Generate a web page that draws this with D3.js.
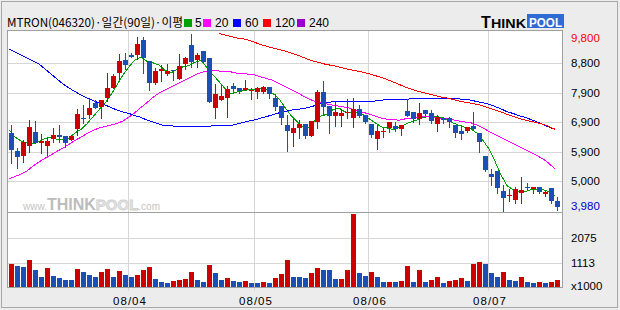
<!DOCTYPE html>
<html>
<head>
<meta charset="utf-8">
<script src="https://cdn.jsdelivr.net/npm/d3@7"></script>
<style>
  body { margin: 0; background: #ececec; }
  svg { display: block; font-family: "Liberation Sans", Arial, sans-serif; }
</style>
</head>
<body>
<div id="chart"></div>
<script>
// MTRON daily candles, 08/03 .. 08/07 (won), volume in x1000 shares
const opens = [
  6530, 5940, 5780, 6120, 6570, 6220, 6110, 6350, 6470, 6430,
  6310, 6680, 7030, 7120, 7530, 7380, 7690, 8010, 8500, 8940,
  9110, 9110, 9600, 8910, 8190, 8570, 8480, 8610, 8320, 8800,
  9440, 8940, 9240, 9000, 7370, 7630, 7700, 8090, 8010, 7940,
  7910, 7900, 7880, 8040, 7680, 7420, 6800, 6550, 6710, 6820,
  6450, 6910, 7880, 7430, 7110, 7110, 7190, 7040, 7320, 7130,
  6830, 6340, 6590, 6710, 6770, 6670, 7260, 7220, 7000, 7290,
  7210, 6820, 7020, 7020, 6800, 6610, 6610, 6770, 6550, 5790,
  5180, 5290, 4620, 4480, 4330, 4570, 4770, 4680, 4750, 4520,
  4730, 4290
];
const highs = [
  6800, 6050, 6310, 6970, 6940, 6500, 6390, 6700, 6800, 6430,
  6470, 7330, 7450, 7660, 7630, 7610, 8500, 8480, 9140, 9160,
  9160, 9690, 9710, 8910, 8670, 8780, 8800, 8610, 9140, 9050,
  9800, 9160, 9240, 9000, 8150, 8120, 8090, 8180, 8010, 8280,
  8010, 8040, 8090, 8040, 7820, 7420, 7130, 6990, 6970, 6820,
  6930, 7950, 8250, 7430, 7570, 7320, 7650, 7680, 7460, 7130,
  6830, 6800, 6710, 6900, 6900, 6800, 7650, 7220, 7540, 7290,
  7290, 7130, 7020, 7070, 6800, 6800, 6740, 7240, 6550, 5790,
  5350, 5290, 4820, 4690, 4750, 5080, 4880, 4750, 4750, 4620,
  4730, 4440
];
const lows = [
  5560, 5390, 5590, 5920, 6190, 5890, 5800, 6230, 6230, 6070,
  6310, 6480, 6880, 7020, 7360, 7020, 7590, 8010, 8330, 8660,
  9030, 8990, 8500, 7950, 8150, 8260, 8450, 8280, 8320, 8640,
  8720, 8700, 8830, 7570, 7020, 7630, 7050, 7850, 7850, 7940,
  7650, 7700, 7870, 7680, 7290, 6820, 5950, 6110, 6360, 6360,
  6450, 6710, 7130, 6550, 6780, 6780, 7020, 6740, 7050, 6860,
  6410, 6010, 6410, 6580, 6610, 6470, 7110, 6910, 6820, 7070,
  6860, 6610, 6860, 6730, 6410, 6330, 6580, 6630, 5920, 5290,
  4820, 4570, 3980, 4290, 4220, 4220, 4690, 4550, 4550, 4470,
  4220, 4000
];
const closes = [
  5980, 5760, 6250, 6720, 6220, 6280, 6270, 6470, 6410, 6220,
  6440, 7160, 7010, 7360, 7360, 7610, 8020, 8420, 8910, 8790,
  9030, 9470, 9000, 8190, 8580, 8650, 8590, 8570, 8750, 9020,
  8880, 9110, 8890, 7570, 7810, 7750, 7980, 8000, 7920, 8010,
  7940, 8020, 8040, 7830, 7380, 7020, 6610, 6710, 6830, 6450,
  6930, 7880, 7400, 7110, 7220, 7210, 7220, 7320, 7110, 6910,
  6470, 6600, 6600, 6900, 6670, 6800, 7110, 7000, 7200, 7150,
  6930, 7050, 6950, 6890, 6550, 6490, 6740, 6660, 6230, 5320,
  5100, 4710, 4380, 4490, 4690, 4660, 4760, 4750, 4600, 4590,
  4300, 4110
];
const volumes = [
  1067, 989, 951, 1221, 835, 564, 912, 603, 526, 448,
  440, 874, 757, 641, 564, 757, 874, 564, 796, 641,
  564, 641, 835, 951, 487, 371, 332, 410, 448, 487,
  757, 448, 371, 1028, 718, 448, 526, 410, 371, 410,
  332, 325, 371, 332, 526, 680, 1221, 564, 560, 526,
  718, 912, 835, 830, 487, 495, 835, 3000, 718, 603,
  757, 564, 371, 380, 371, 410, 989, 371, 835, 371,
  448, 564, 332, 410, 448, 526, 410, 1067, 1144, 1067,
  718, 564, 757, 448, 410, 564, 371, 332, 371, 332,
  371, 448
];

// moving averages as drawn on the chart
const ma5 = [
  6640, 6400, 6270, 6210, 6190, 6250, 6350, 6390, 6330, 6330,
  6360, 6540, 6650, 6840, 7070, 7300, 7520, 7800, 8120, 8450,
  8720, 8950, 9040, 8900, 8850, 8780, 8600, 8520, 8630, 8720,
  8760, 8870, 8930, 8690, 8450, 8230, 8000, 7820, 7890, 7930,
  7970, 7980, 7990, 7970, 7840, 7660, 7380, 7110, 6910, 6730,
  6710, 6960, 7100, 7150, 7310, 7360, 7230, 7220, 7220, 7150,
  7010, 6880, 6740, 6700, 6650, 6710, 6820, 6900, 6960, 7050,
  7080, 7070, 7060, 6990, 6870, 6790, 6720, 6670, 6530, 6290,
  6010, 5600, 5150, 4800, 4670, 4590, 4600, 4670, 4690, 4670,
  4600, 4470
];
const ma20 = [
  5020, 5100, 5180, 5280, 5450, 5580, 5700, 5810, 5930, 6040,
  6160, 6290, 6400, 6520, 6620, 6700, 6750, 6800, 6850, 6930,
  7060, 7210, 7380, 7540, 7710, 7850, 7950, 8050, 8150, 8250,
  8350, 8450, 8530, 8580, 8580, 8580, 8560, 8550, 8510, 8500,
  8470, 8450, 8380, 8330, 8270, 8170, 8070, 7970, 7870, 7760,
  7660, 7570, 7530, 7490, 7450, 7420, 7390, 7340, 7280, 7220,
  7160, 7100, 7030, 6990, 6970, 6960, 7000, 7030, 7060, 7090,
  7080, 7050, 7010, 7000, 6970, 6930, 6900, 6870, 6800, 6700,
  6590, 6490, 6390, 6290, 6190, 6090, 5990, 5890, 5790, 5680,
  5530, 5350
];
const ma60 = [
  9300, 9210, 9110, 9010, 8910, 8810, 8650, 8480, 8320, 8150,
  8020, 7900, 7790, 7690, 7610, 7520, 7460, 7380, 7290, 7230,
  7180, 7110, 7050, 6960, 6900, 6830, 6770, 6770, 6760, 6760,
  6760, 6760, 6760, 6760, 6770, 6770, 6770, 6780, 6830, 6880,
  6930, 6970, 7030, 7080, 7140, 7200, 7250, 7290, 7310, 7340,
  7380, 7440, 7520, 7550, 7560, 7560, 7570, 7570, 7580, 7580,
  7580, 7590, 7620, 7630, 7640, 7640, 7650, 7660, 7660, 7670,
  7680, 7680, 7690, 7680, 7670, 7660, 7640, 7620, 7570, 7530,
  7480, 7410, 7330, 7240, 7180, 7110, 7050, 6980, 6900, 6820,
  6730, 6660
];
// 120-day line only begins once enough history exists (day 35)
const ma120 = new Array(35).fill(null).concat([
  9820, 9770, 9720, 9670, 9640, 9590, 9520, 9450, 9390, 9340,
  9290, 9240, 9170, 9110, 9030, 8950, 8890, 8840, 8790, 8760,
  8710, 8660, 8620, 8580, 8540, 8490, 8430, 8370, 8300, 8220,
  8140, 8050, 7990, 7920, 7870, 7820, 7770, 7720, 7690, 7640,
  7590, 7550, 7520, 7480, 7430, 7360, 7290, 7230, 7150, 7080,
  7020, 6960, 6920, 6870, 6820, 6750, 6660
]);

const monthLabels = ['08/04', '08/05', '08/06', '08/07'];
const monthStarts = [20, 41, 60, 80];
const priceMax = 9800;
const priceMin = 3980;
const priceTicks = [8830, 7860, 6890, 5920, 4950];
const priceTickLabels = ['8,800', '7,900', '6,900', '5,900', '5,000'];
const volMin = 151;
const volMax = 3037;
const volTicks = [1113, 2075];
const maPeriods = ['5', '20', '60', '120', '240'];

// layout
const width = 620;
const height = 310;
const plotLeft = 7.5, plotRight = 562.5, plotTop = 30.5, plotSplit = 212.5, plotBottom = 287.5;
const upColor = '#cc0000';
const downColor = '#1c4fb4';
const maColors = ['#00a000', '#ff00ff', '#0000ff', '#ff0000', '#9900cc'];

const svg = d3.select('#chart')
              .append('svg')
              .attr('width', width)
              .attr('height', height);

// outer frame
svg.append('rect')
   .attr('x', 1.5).attr('y', 1.5)
   .attr('width', 616).attr('height', 306)
   .attr('fill', '#ececec')
   .attr('stroke', '#a8a8a8');

// plot area
svg.append('rect')
   .attr('x', plotLeft).attr('y', plotTop)
   .attr('width', plotRight - plotLeft).attr('height', plotBottom - plotTop)
   .attr('fill', '#fff');

const x = d3.scaleBand()
            .domain(d3.range(closes.length))
            .range([9, 560])
            .paddingInner(1 / 6)
            .paddingOuter(0);
const y = d3.scaleLinear().domain([priceMin, priceMax]).range([210.5, 34]);
const yv = d3.scaleLinear().domain([volMin, volMax]).range([plotBottom, 213]);

const grid = svg.append('g')
                .attr('stroke', '#d6d6d6')
                .attr('shape-rendering', 'crispEdges');

grid.selectAll('.hp')
    .data(priceTicks)
    .enter()
    .append('line')
    .attr('x1', plotLeft).attr('x2', plotRight)
    .attr('y1', (d) => Math.round(y(d)) + 0.5)
    .attr('y2', (d) => Math.round(y(d)) + 0.5);

grid.selectAll('.hv')
    .data(volTicks)
    .enter()
    .append('line')
    .attr('x1', plotLeft).attr('x2', plotRight)
    .attr('y1', (d) => Math.round(yv(d)) + 0.5)
    .attr('y2', (d) => Math.round(yv(d)) + 0.5);

grid.selectAll('.vm')
    .data(monthStarts)
    .enter()
    .append('line')
    .attr('x1', (d) => x(d) - 0.5).attr('x2', (d) => x(d) - 0.5)
    .attr('y1', plotTop).attr('y2', plotBottom + 3);

// watermark, one text run at natural widths
svg.append('clipPath').attr('id', 'pclip')
   .append('rect')
   .attr('x', plotLeft).attr('y', plotTop)
   .attr('width', plotRight - plotLeft).attr('height', plotSplit - plotTop);
const wm = svg.append('g').attr('clip-path', 'url(#pclip)')
              .append('text')
              .attr('x', 23).attr('y', 210);
wm.append('tspan').attr('font-size', 10).attr('fill', '#c4c4c4').text('www.');
wm.append('tspan').attr('font-size', 16).attr('font-weight', 'bold').attr('fill', '#bcbcbc').text('THINK');
wm.append('tspan').attr('font-size', 15).attr('font-weight', 'bold').attr('fill', '#e6e6e6')
  .attr('stroke', '#cfcfcf').attr('stroke-width', 0.8).text('POOL');
wm.append('tspan').attr('font-size', 10).attr('fill', '#c4c4c4').text('.com');

// moving average lines
const line = d3.line()
               .defined((d) => d != null)
               .x((d, i) => x(i))
               .y((d) => y(d));

[ma5, ma20, ma60, ma120].forEach((series, k) => {
    svg.append('path')
       .datum(series)
       .attr('d', line)
       .attr('fill', 'none')
       .attr('stroke', maColors[k])
       .attr('stroke-width', 1)
       .attr('shape-rendering', 'crispEdges');
});

// candles
const candles = svg.selectAll('.candle')
                   .data(closes)
                   .enter()
                   .append('g')
                   .attr('shape-rendering', 'crispEdges');

const colorOf = (i) => closes[i] >= opens[i] ? upColor : downColor;

candles.append('line')
       .attr('x1', (d, i) => x(i) + 2.5)
       .attr('x2', (d, i) => x(i) + 2.5)
       .attr('y1', (d, i) => Math.round(y(highs[i])))
       .attr('y2', (d, i) => Math.round(y(lows[i])) + 1)
       .attr('stroke', (d, i) => colorOf(i));

candles.append('rect')
       .attr('x', (d, i) => x(i))
       .attr('width', x.bandwidth())
       .attr('y', (d, i) => Math.round(y(Math.max(opens[i], closes[i]))))
       .attr('height', (d, i) => Math.max(1, Math.round(y(Math.min(opens[i], closes[i]))) - Math.round(y(Math.max(opens[i], closes[i])))))
       .attr('fill', (d, i) => colorOf(i));

// volume bars, coloured by change against previous day
svg.selectAll('.vol')
   .data(volumes)
   .enter()
   .append('rect')
   .attr('x', (d, i) => x(i))
   .attr('width', x.bandwidth())
   .attr('y', (d) => Math.round(yv(d)))
   .attr('height', (d) => plotBottom - Math.round(yv(d)))
   .attr('fill', (d, i) => (i === 0 || d > volumes[i - 1]) ? upColor : downColor)
   .attr('shape-rendering', 'crispEdges');

// panel borders
svg.append('rect')
   .attr('x', plotLeft).attr('y', plotTop)
   .attr('width', plotRight - plotLeft).attr('height', plotBottom - plotTop)
   .attr('fill', 'none')
   .attr('stroke', '#a0a0a0')
   .attr('shape-rendering', 'crispEdges');
svg.append('line')
   .attr('x1', plotLeft).attr('x2', plotRight)
   .attr('y1', plotSplit).attr('y2', plotSplit)
   .attr('stroke', '#a0a0a0')
   .attr('shape-rendering', 'crispEdges');

// right axis labels
const axis = svg.append('g').attr('font-size', '11.5px');
axis.append('text').attr('x', 571).attr('y', y(priceMax) + 3.5).attr('dy', '0.35em')
    .attr('fill', '#ff0000').text(d3.format(',')(priceMax));
axis.selectAll('.pl')
    .data(priceTicks)
    .enter()
    .append('text')
    .attr('x', 571)
    .attr('y', (d) => y(d))
    .attr('dy', '0.35em')
    .attr('fill', '#000')
    .text((d, i) => priceTickLabels[i]);
axis.append('text').attr('x', 571).attr('y', y(priceMin) - 4.5).attr('dy', '0.35em')
    .attr('fill', '#0000cc').text(d3.format(',')(priceMin));
axis.selectAll('.vl')
    .data(volTicks)
    .enter()
    .append('text')
    .attr('x', 571)
    .attr('y', (d) => yv(d) + 0.5)
    .attr('dy', '0.35em')
    .text((d) => d);
axis.append('text').attr('x', 571).attr('y', 286).attr('dy', '0.35em').text('x1000');

// month labels
svg.append('g')
   .attr('font-size', '11.5px')
   .attr('text-anchor', 'middle')
   .attr('letter-spacing', '1px')
   .selectAll('text')
   .data(monthStarts)
   .enter()
   .append('text')
   .attr('x', (d) => x(d) + 1)
   .attr('y', 301)
   .attr('dy', '0.35em')
   .text((d, i) => monthLabels[i]);

// header
svg.append('text')
   .attr('x', 7).attr('y', 26.5)
   .attr('font-family', '"Noto Sans CJK KR", sans-serif')
   .attr('font-size', '12px')
   .attr('textLength', 176)
   .attr('lengthAdjust', 'spacingAndGlyphs')
   .text('MTRON(046320)·일간(90일)·이평');

const legendBoxX = [184, 203, 233, 263, 297];
const legendTextX = [195, 215, 245, 275, 309];
const legend = svg.append('g');
legend.selectAll('rect')
      .data(maPeriods)
      .enter()
      .append('rect')
      .attr('x', (d, i) => legendBoxX[i])
      .attr('y', 19)
      .attr('width', 8).attr('height', 8)
      .attr('fill', (d, i) => maColors[i]);
legend.selectAll('text')
      .data(maPeriods)
      .enter()
      .append('text')
      .attr('x', (d, i) => legendTextX[i])
      .attr('y', 26.5)
      .attr('font-size', '12px')
      .text((d) => d);

// logo
const logo = svg.append('g').attr('font-weight', 'bold');
logo.append('text').attr('x', 481).attr('y', 27.5).attr('font-size', '16px').text('T');
logo.append('text').attr('x', 491).attr('y', 27.5).attr('font-size', '12.5px')
    .attr('textLength', 35).attr('lengthAdjust', 'spacingAndGlyphs').text('HINK');
logo.append('rect').attr('x', 527).attr('y', 14).attr('width', 37).attr('height', 14).attr('fill', '#2f6bd4');
logo.append('text').attr('x', 529).attr('y', 27).attr('font-size', '13px').attr('fill', '#fff')
    .attr('textLength', 33).attr('lengthAdjust', 'spacingAndGlyphs').text('POOL');
</script>
</body>
</html>
